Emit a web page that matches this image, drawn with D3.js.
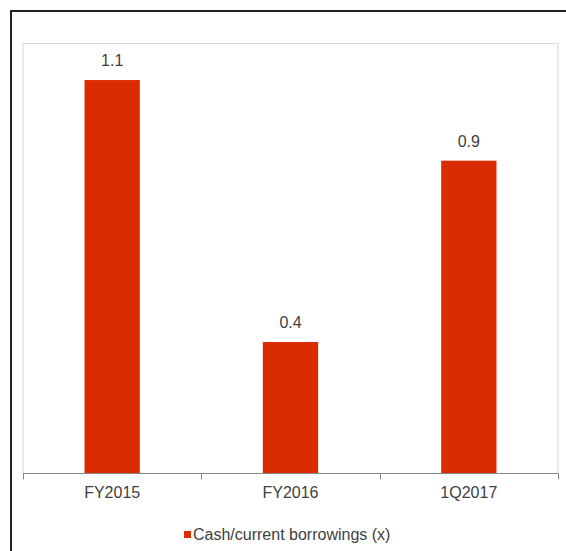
<!DOCTYPE html>
<html>
<head>
<meta charset="utf-8">
<script src="https://cdn.jsdelivr.net/npm/d3@7"></script>
<style>
  html, body { margin: 0; padding: 0; background: #fff; }
  svg { display: block; }
  text { font-family: "Liberation Sans", Arial, sans-serif; fill: #404040; }
</style>
</head>
<body>
<svg id="chart" width="566" height="551"></svg>
<script>
// Data
const categories = ["FY2015", "FY2016", "1Q2017"];
const values = [1.098, 0.367, 0.873];
const valueLabels = ["1.1", "0.4", "0.9"];
const seriesName = "Cash/current borrowings (x)";
const yDomain = [0, 1.2];

const svg = d3.select("#chart");
const W = 566, H = 551;
const plot = { left: 23, right: 558, top: 43.5, bottom: 473.5 };
const barColor = "#DA2C00";

// Outer frame (left and top edges visible)
svg.append("path")
  .attr("d", `M11,${H} L11,11 L${W},11`)
  .attr("fill", "none")
  .attr("stroke", "#222")
  .attr("stroke-width", 2);

// Plot area border
svg.append("rect")
  .attr("x", plot.left).attr("y", plot.top)
  .attr("width", plot.right - plot.left)
  .attr("height", plot.bottom - plot.top)
  .attr("fill", "#fff")
  .attr("stroke", "#d9d9d9")
  .attr("stroke-width", 1);

const x = d3.scaleBand()
  .domain(categories)
  .range([plot.left, plot.right])
  .paddingInner(0.69)
  .paddingOuter(0.345);

const xBand = d3.scaleBand()
  .domain(categories)
  .range([plot.left, plot.right])
  .padding(0);

const y = d3.scaleLinear().domain(yDomain).range([plot.bottom, plot.top]);

// Bars
svg.append("g").selectAll("rect")
  .data(categories)
  .join("rect")
  .attr("x", (d) => x(d))
  .attr("y", (d, i) => y(values[i]))
  .attr("width", x.bandwidth())
  .attr("height", (d, i) => y(0) - y(values[i]))
  .attr("fill", barColor);

// Value labels
svg.append("g").selectAll("text")
  .data(categories)
  .join("text")
  .attr("x", (d) => x(d) + x.bandwidth() / 2)
  .attr("y", (d, i) => y(values[i]) - 14)
  .attr("text-anchor", "middle")
  .attr("font-size", 16)
  .text((d, i) => valueLabels[i]);

// X axis line and ticks at band boundaries
const axisG = svg.append("g");
axisG.append("line")
  .attr("x1", plot.left).attr("x2", plot.right)
  .attr("y1", plot.bottom).attr("y2", plot.bottom)
  .attr("stroke", "#868686").attr("stroke-width", 1);
const boundaries = categories.map((d) => xBand(d)).concat([xBand(categories[categories.length - 1]) + xBand.bandwidth()]);
axisG.selectAll("line.tick")
  .data(boundaries)
  .join("line")
  .attr("class", "tick")
  .attr("x1", (d) => Math.round(d) + 0.5).attr("x2", (d) => Math.round(d) + 0.5)
  .attr("y1", plot.bottom).attr("y2", plot.bottom + 6)
  .attr("stroke", "#868686").attr("stroke-width", 1);
axisG.selectAll("text")
  .data(categories)
  .join("text")
  .attr("x", (d) => xBand(d) + xBand.bandwidth() / 2)
  .attr("y", 498)
  .attr("text-anchor", "middle")
  .attr("font-size", 16)
  .text((d) => d);

// Legend
const legend = svg.append("g");
legend.append("rect")
  .attr("x", 184).attr("y", 531)
  .attr("width", 7).attr("height", 7)
  .attr("fill", barColor);
legend.append("text")
  .attr("x", 193).attr("y", 539.5)
  .attr("font-size", 16)
  .text(seriesName);
</script>
</body>
</html>
